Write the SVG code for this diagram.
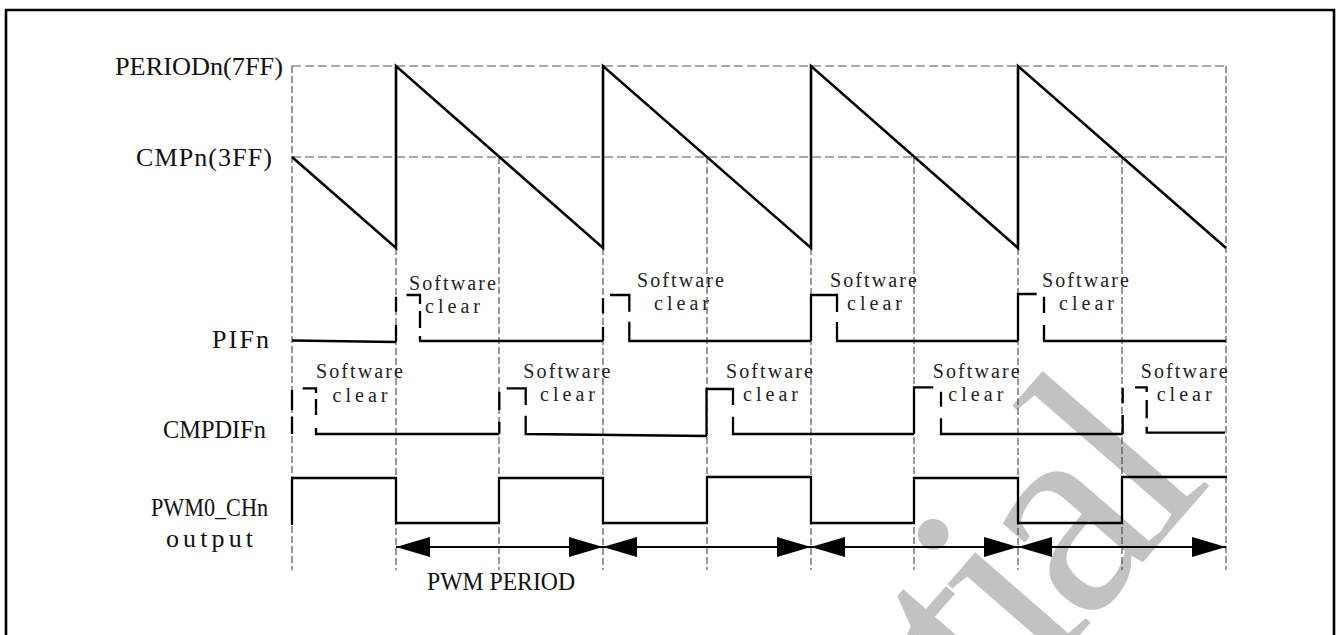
<svg xmlns="http://www.w3.org/2000/svg" width="1338" height="635" viewBox="0 0 1338 635">
<style>
.lbl{font-family:"Liberation Serif","DejaVu Serif",serif;font-size:26px;fill:#111}
.sw{font-family:"Liberation Serif","DejaVu Serif",serif;font-size:20px;fill:#222}
.grid-h{stroke:#555;stroke-width:1.2;stroke-dasharray:9 4;fill:none}
.grid-v{stroke:#333;stroke-width:1;stroke-dasharray:7 3;fill:none}
.saw{stroke:#000;stroke-width:2.6;fill:none;stroke-linejoin:miter}
.sig{stroke:#000;stroke-width:2.3;fill:none;stroke-linejoin:miter}
.arr{stroke:#000;stroke-width:2;fill:none}
.wm{font-family:"Liberation Serif","DejaVu Serif",serif;font-size:290px;fill:#c2c2c2;letter-spacing:-14px}
</style>
<defs>
<marker id="ah" markerUnits="userSpaceOnUse" markerWidth="36" markerHeight="22" refX="34" refY="10" orient="auto-start-reverse">
<path d="M0,0 L34,10 L0,20 Z" fill="#000"/>
</marker>
</defs>
<rect width="1338" height="635" fill="#fff"/>
<text class="wm" x="1204" y="492" text-anchor="end" transform="rotate(-49 1204 492)">tial</text>
<path d="M6,640 V10 H1334 V640" fill="none" stroke="#000" stroke-width="2.6"/>

<g id="grid">
<path class="grid-h" d="M292,66 H1226 M292,157 H1226"/>
<path class="grid-v" d="M292,66 V570 M1226,66 V570 M396,248 V570 M603,248 V570 M811,248 V570 M1018,248 V570 M499,157 V570 M707,157 V570 M914,157 V570 M1122,157 V570"/>
</g>

<g id="labels">
<text class="lbl" x="115" y="75" font-size="28" textLength="168" lengthAdjust="spacingAndGlyphs">PERIODn(7FF)</text>
<text class="lbl" x="136" y="165.5" textLength="136">CMPn(3FF)</text>
<text class="lbl" x="212" y="348" textLength="57">PIFn</text>
<text class="lbl" x="163" y="437.5" textLength="103" lengthAdjust="spacingAndGlyphs">CMPDIFn</text>
<text class="lbl" x="151" y="516" textLength="117" lengthAdjust="spacingAndGlyphs">PWM0_CHn</text>
<text class="lbl" x="166" y="547" textLength="87">output</text>
<text class="lbl" x="427" y="590" font-size="23" textLength="148" lengthAdjust="spacingAndGlyphs">PWM PERIOD</text>
</g>

<g id="counter">
<path class="saw" d="M292,157 L396,248 V66 L603,248 V66 L811,248 V66 L1018,248 V66 L1226,248"/>
</g>

<g id="pifn">
<path class="sig" d="M292,340.5 L396,342"/>
<path class="sig" d="M396,342 V325 M396,311.7 V296.7 M406.5,295 H420 V304 M420,311 V328 M420,336 V341 H603"/>
<path class="sig" d="M603,341 V326.7 M603,313.3 V298.3 M610,295 H629.3 V311.7 M629.3,321.7 V341 H811"/>
<path class="sig" d="M811,341 V295 H837 V312 M837,322 V341 H1018"/>
<path class="sig" d="M1018,341 V294 H1036.7 M1044,296.7 V313 M1044,325 V341 H1226"/>
<text class="sw" x="409" y="290" textLength="87">Software</text>
<text class="sw" x="425" y="312.5" textLength="55">clear</text>
<text class="sw" x="637" y="287" textLength="87">Software</text>
<text class="sw" x="654" y="310" textLength="55">clear</text>
<text class="sw" x="830" y="287" textLength="87">Software</text>
<text class="sw" x="847" y="310" textLength="55">clear</text>
<text class="sw" x="1042" y="287" textLength="87">Software</text>
<text class="sw" x="1059" y="310" textLength="55">clear</text>
</g>

<g id="cmpdifn">
<path class="sig" d="M292,434 V416.7 M292,410 V390 M302.7,388.3 H316 V393 M316,399 V415 M316,428 V434 H499.3"/>
<path class="sig" d="M499.3,434 V421.7 M499.3,410 V391.7 M506.7,388.3 H525.7 V405 M525.7,415.7 V434 L707,436"/>
<path class="sig" d="M706.5,436 V389 H733 V405 M733,416.7 V434 H914"/>
<path class="sig" d="M914,434 V387.3 H933.3 M941,391.7 V406.7 M941,418.3 V434 H1122.7"/>
<path class="sig" d="M1122.7,434 V415 M1122.7,403 V388 M1135,387.3 H1146.7 V392 M1146.7,400 V418.3 M1146.7,426.7 V432.7 H1225"/>
<text class="sw" x="316" y="378" textLength="87">Software</text>
<text class="sw" x="332.5" y="401.5" textLength="55">clear</text>
<text class="sw" x="523.3" y="377.5" textLength="87">Software</text>
<text class="sw" x="540" y="401" textLength="55">clear</text>
<text class="sw" x="726" y="377.5" textLength="87">Software</text>
<text class="sw" x="743" y="401" textLength="55">clear</text>
<text class="sw" x="932.7" y="377.5" textLength="87">Software</text>
<text class="sw" x="948.3" y="401" textLength="55">clear</text>
<text class="sw" x="1140.7" y="377.5" textLength="87">Software</text>
<text class="sw" x="1156.7" y="401" textLength="55">clear</text>
</g>

<g id="pwm-output">
<path class="sig" d="M292,525 V478 H396 V523 H499 V478 H603 V523 H707 V477 H811 V523 H914 V478 H1018 V523 H1122 V477 H1227"/>
</g>

<g id="connectors">
<line class="arr" x1="396" y1="547" x2="603" y2="547" marker-start="url(#ah)" marker-end="url(#ah)"/>
<line class="arr" x1="603" y1="547" x2="811" y2="547" marker-start="url(#ah)" marker-end="url(#ah)"/>
<line class="arr" x1="811" y1="547" x2="1018" y2="547" marker-start="url(#ah)" marker-end="url(#ah)"/>
<line class="arr" x1="1018" y1="547" x2="1226" y2="547" marker-start="url(#ah)" marker-end="url(#ah)"/>
</g>
</svg>
